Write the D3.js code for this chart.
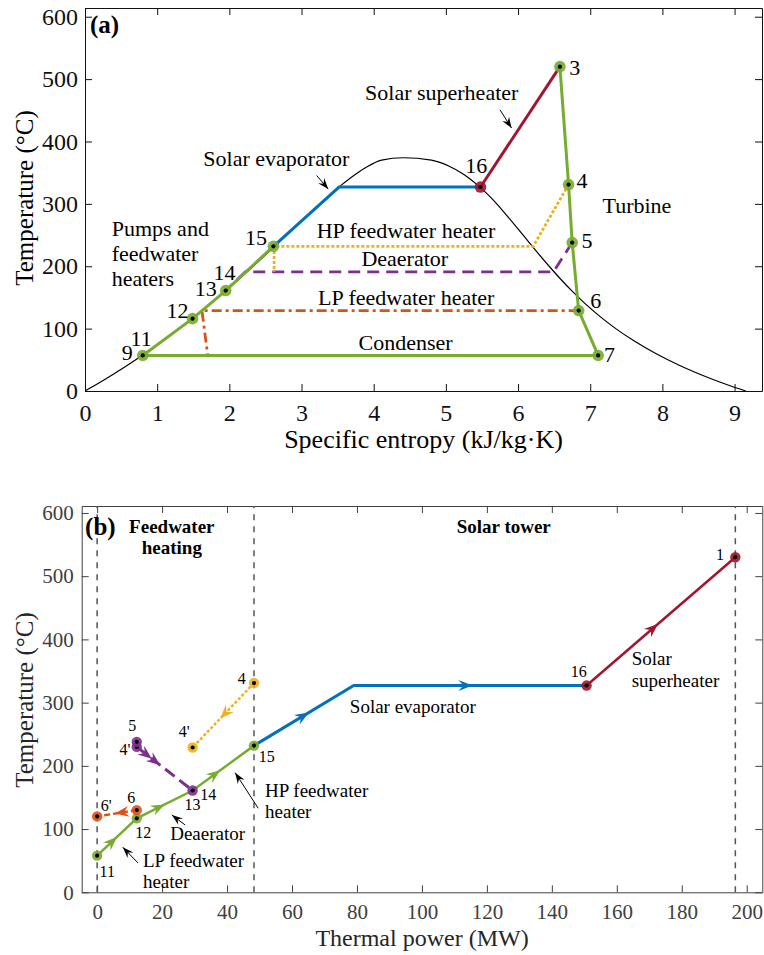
<!DOCTYPE html>
<html>
<head>
<meta charset="utf-8">
<title>T-s and T-Q diagrams</title>
<style>
body{margin:0;background:#fff}
</style>
</head>
<body>
<svg id="chart" width="764" height="955" font-family="'Liberation Serif', 'Times New Roman', 'DejaVu Serif', serif"></svg>
<script src="https://cdn.jsdelivr.net/npm/d3@7"></script>
<script>
// ---- panel (a): T-s diagram ----
// saturation dome of water (steam tables)
var satT  = [0.01, 10, 20, 40, 60, 80, 100, 120, 140, 160, 180, 200, 220, 240, 260, 280, 300, 310, 320, 330, 340, 350, 360, 370, 373.95];
var satSf = [0, 0.151, 0.2966, 0.5724, 0.8312, 1.0753, 1.3069, 1.5276, 1.7391, 1.9427, 2.1396, 2.3309, 2.5178, 2.7015, 2.8838, 3.0668, 3.2534, 3.3493, 3.4480, 3.5507, 3.6594, 3.7784, 3.9147, 4.1106, 4.407];
var satSg = [9.155, 8.899, 8.666, 8.255, 7.908, 7.611, 7.354, 7.129, 6.929, 6.750, 6.585, 6.431, 6.284, 6.141, 5.999, 5.854, 5.705, 5.6244, 5.536, 5.4373, 5.336, 5.2112, 5.053, 4.800, 4.407];

var turbineS = [6.58, 6.70, 6.75, 6.84, 7.11], turbineT = [520, 331, 238, 129, 57];
var condS = [7.11, 0.80], condT = [57, 57];
var pumpS = [0.80, 1.49, 1.95, 2.61], pumpT = [57, 116, 161, 232];
var evapS = [2.61, 3.52, 5.48], evapT = [232, 327, 327];
var superS = [5.48, 6.58], superT = [327, 520];
var hpS = [6.70, 6.21, 2.62, 2.62], hpT = [331, 232, 232, 191];
var deaS = [6.75, 6.49, 2.22, 1.95], deaT = [238, 191, 191, 161];
var lpS = [6.84, 1.62, 1.70], lpT = [129, 129, 58];
var greenPtS = [6.58, 6.70, 6.75, 6.84, 7.11, 0.80, 1.49, 1.95, 2.61];
var greenPtT = [520, 331, 238, 129, 57, 57, 116, 161, 232];
var xTicksA = [0, 1, 2, 3, 4, 5, 6, 7, 8, 9];
var yTicks = [0, 100, 200, 300, 400, 500, 600];

// ---- panel (b): T-Q diagram ----
var fwP = [0, 12.2, 29.4, 48.3], fwT = [58, 117, 161, 232];
var evP = [48.3, 79, 150.7], evT = [232, 327, 327];
var shP = [150.7, 196.5], shT = [327, 530];
var hpP = [48.3, 29.4], hpT2 = [331, 229];
var deP = [12.2, 29.4], deT = [230, 161];
var lpP = [12.2, 0], lpT2 = [130, 120];
var vLines = [0, 48.3, 196.5];
var xTicksB = [0, 20, 40, 60, 80, 100, 120, 140, 160, 180, 200];

var cGreen = "#77AC30", cBlue = "#0072BD", cRed = "#A2142F",
    cYellow = "#EDB120", cPurple = "#7E2F8E", cOrange = "#D95319";
var serif = "'Liberation Serif', 'Times New Roman', 'DejaVu Serif', serif";

var svg = d3.select("#chart");
var xa = d3.scaleLinear().domain([0, 9.38]).range([85, 762]);
var ya = d3.scaleLinear().domain([0, 614]).range([391, 8]);
var xb = d3.scaleLinear().domain([-4.75, 204.8]).range([81.7, 762.3]);
var yb = d3.scaleLinear().domain([0, 611]).range([892.3, 506]);

function frame(x, y, xt, pad, fs, col) {
  var g = svg.append("g");
  var r = x.range(), ry = y.range();
  var ax = [
    [d3.axisBottom(x).tickValues(xt).tickPadding(pad[0]), "translate(0," + ry[0] + ")"],
    [d3.axisLeft(y).tickValues(yTicks).tickPadding(pad[1]), "translate(" + r[0] + ",0)"],
    [d3.axisTop(x).tickValues(xt).tickFormat(""), "translate(0," + ry[1] + ")"],
    [d3.axisRight(y).tickValues(yTicks).tickFormat(""), "translate(" + r[1] + ",0)"]
  ];
  ax.forEach(function (a) {
    g.append("g").attr("transform", a[1])
      .call(a[0].tickSizeInner(-7).tickSizeOuter(0))
      .attr("font-family", serif).attr("font-size", fs);
  });
  g.selectAll("path,line").attr("stroke", col).attr("stroke-width", 1);
  g.selectAll("text").attr("fill", col).attr("font-family", serif);
  return g;
}

function line(g, x, y, xs, ys, color, w, dash) {
  g.append("path").datum(d3.zip(xs, ys))
    .attr("d", d3.line().x(function (d) { return x(d[0]); }).y(function (d) { return y(d[1]); }))
    .attr("fill", "none").attr("stroke", color).attr("stroke-width", w)
    .attr("stroke-dasharray", dash || null);
}

function markers(g, x, y, xs, ys, color, r) {
  d3.zip(xs, ys).forEach(function (d) {
    g.append("circle").attr("cx", x(d[0])).attr("cy", y(d[1])).attr("r", r).attr("fill", color).attr("opacity", 0.9);
    g.append("circle").attr("cx", x(d[0])).attr("cy", y(d[1])).attr("r", 2.1).attr("fill", "#000");
  });
}

function head(g, px, py, ang, len, wid, color) {
  var pts = [[0, 0], [-len, -wid / 2], [-len * 0.65, 0], [-len, wid / 2]];
  g.append("path")
    .attr("d", "M" + pts.map(function (p) { return p.join(","); }).join("L") + "Z")
    .attr("transform", "translate(" + px + "," + py + ") rotate(" + ang * 180 / Math.PI + ")")
    .attr("fill", color);
}

// arrow head on segment i of a polyline, tip at fraction f
function flow(g, x, y, xs, ys, i, f, color) {
  var x0 = x(xs[i]), y0 = y(ys[i]), x1 = x(xs[i + 1]), y1 = y(ys[i + 1]);
  head(g, x0 + f * (x1 - x0), y0 + f * (y1 - y0), Math.atan2(y1 - y0, x1 - x0), 14, 11, color);
}

function pointer(g, x, y, from, to) {
  var x0 = x(from[0]), y0 = y(from[1]), x1 = x(to[0]), y1 = y(to[1]);
  g.append("line").attr("x1", x0).attr("y1", y0).attr("x2", x1).attr("y2", y1)
    .attr("stroke", "#000").attr("stroke-width", 1);
  head(g, x1, y1, Math.atan2(y1 - y0, x1 - x0), 11, 8, "#000");
}

function label(g, x, y, px, py, str, fs, anchor, weight) {
  g.append("text").attr("x", x(px)).attr("y", y(py)).attr("font-size", fs)
    .attr("font-family", serif)
    .attr("text-anchor", anchor || "start").attr("font-weight", weight || null)
    .attr("fill", "#000").text(str);
}

// ================= panel (a) =================
frame(xa, ya, xTicksA, [13, 7], 24, "#111");
var ga = svg.append("g");
var dome = d3.zip(satSf, satT).concat(d3.zip(satSg, satT).reverse().slice(1));
ga.append("path").datum(dome)
  .attr("d", d3.line().curve(d3.curveMonotoneX).x(function (d) { return xa(d[0]); }).y(function (d) { return ya(d[1]); }))
  .attr("fill", "none").attr("stroke", "#000").attr("stroke-width", 1.2);
line(ga, xa, ya, lpS, lpT, cOrange, 2.8, "10,4,3,4");
line(ga, xa, ya, deaS, deaT, cPurple, 2.8, "12,7");
line(ga, xa, ya, hpS, hpT, cYellow, 2.8, "3,2");
line(ga, xa, ya, condS, condT, cGreen, 3);
line(ga, xa, ya, pumpS, pumpT, cGreen, 3);
line(ga, xa, ya, turbineS, turbineT, cGreen, 3);
line(ga, xa, ya, evapS, evapT, cBlue, 3);
line(ga, xa, ya, superS, superT, cRed, 3);
markers(ga, xa, ya, greenPtS, greenPtT, cGreen, 5.8);
markers(ga, xa, ya, [5.48], [327], cRed, 5.8);
pointer(ga, xa, ya, [3.21, 345.5], [3.37, 323.7]);
pointer(ga, xa, ya, [5.75, 450.8], [5.91, 421.5]);

label(ga, xa, ya, 0.07, 574, "(a)", 25, "start", "bold");
label(ga, xa, ya, 1.64, 361.5, "Solar evaporator", 22);
label(ga, xa, ya, 3.88, 467, "Solar superheater", 22);
label(ga, xa, ya, 5.42, 349, "16", 22, "middle");
label(ga, xa, ya, 6.71, 507, "3", 22);
label(ga, xa, ya, 6.81, 325, "4", 22);
label(ga, xa, ya, 7.17, 285, "Turbine", 22);
label(ga, xa, ya, 6.88, 229, "5", 22);
label(ga, xa, ya, 7.00, 133, "6", 22);
label(ga, xa, ya, 7.19, 46.5, "7", 22);
label(ga, xa, ya, 0.37, 248, "Pumps and", 22);
label(ga, xa, ya, 0.37, 208, "feedwater", 22);
label(ga, xa, ya, 0.37, 168, "heaters", 22);
label(ga, xa, ya, 2.52, 234.5, "15", 22, "end");
label(ga, xa, ya, 1.78, 178, "14", 22);
label(ga, xa, ya, 1.52, 151.6, "13", 22);
label(ga, xa, ya, 1.13, 117, "12", 22);
label(ga, xa, ya, 0.63, 72.6, "11", 22);
label(ga, xa, ya, 0.51, 50, "9", 22);
label(ga, xa, ya, 3.21, 245, "HP feedwater heater", 22);
label(ga, xa, ya, 3.83, 200, "Deaerator", 22);
label(ga, xa, ya, 3.23, 138, "LP feedwater heater", 22);
label(ga, xa, ya, 3.79, 66, "Condenser", 22);

svg.append("text").attr("x", 423.5).attr("y", 448).attr("text-anchor", "middle")
  .attr("font-family", serif).attr("font-size", 26).text("Specific entropy (kJ/kg\u00B7K)");
svg.append("text").attr("transform", "translate(33,198) rotate(-90)").attr("text-anchor", "middle")
  .attr("font-family", serif).attr("font-size", 25).text("Temperature (\u00B0C)");

// ================= panel (b) =================
frame(xb, yb, xTicksB, [12, 8], 21, "#404040");
var gb = svg.append("g");
vLines.forEach(function (v) {
  gb.append("line").attr("x1", xb(v)).attr("x2", xb(v)).attr("y1", yb(0)).attr("y2", yb(611))
    .attr("stroke", "#555").attr("stroke-width", 1.5).attr("stroke-dasharray", "6,6");
});
line(gb, xb, yb, evP, evT, cBlue, 3);
line(gb, xb, yb, shP, shT, cRed, 2.5);
line(gb, xb, yb, fwP, fwT, cGreen, 2.5);
line(gb, xb, yb, hpP, hpT2, cYellow, 2.5, "3,2");
line(gb, xb, yb, deP, deT, cPurple, 3, "12,6");
line(gb, xb, yb, lpP, lpT2, cOrange, 2.5, "6,3");
flow(gb, xb, yb, fwP, fwT, 0, 0.5, cGreen);
flow(gb, xb, yb, fwP, fwT, 1, 0.5, cGreen);
flow(gb, xb, yb, fwP, fwT, 2, 0.45, cGreen);
flow(gb, xb, yb, evP, evT, 0, 0.55, cBlue);
flow(gb, xb, yb, evP, evT, 1, 0.51, cBlue);
flow(gb, xb, yb, shP, shT, 0, 0.48, cRed);
flow(gb, xb, yb, hpP, hpT2, 0, 0.55, cYellow);
flow(gb, xb, yb, deP, deT, 0, 0.27, cPurple);
flow(gb, xb, yb, deP, deT, 0, 0.42, cPurple);
flow(gb, xb, yb, lpP, lpT2, 0, 0.55, cOrange);
markers(gb, xb, yb, [0, 12.2, 48.3], [58, 117, 232], cGreen, 5.2);
markers(gb, xb, yb, [29.4, 12.2, 12.2], [161, 230, 238], cPurple, 5.2);
markers(gb, xb, yb, hpP, hpT2, cYellow, 5.2);
markers(gb, xb, yb, lpP, lpT2, cOrange, 5.2);
markers(gb, xb, yb, shP, shT, cRed, 5.2);
pointer(gb, xb, yb, [27.1, 106.5], [23.0, 122.3]);
pointer(gb, xb, yb, [12.6, 46.4], [7.9, 71.2]);
pointer(gb, xb, yb, [49.6, 132.9], [42.5, 189.2]);

label(gb, xb, yb, -3.7, 565, "(b)", 25, "start", "bold");
label(gb, xb, yb, 23, 568.5, "Feedwater", 19, "middle", "bold");
label(gb, xb, yb, 23, 535, "heating", 19, "middle", "bold");
label(gb, xb, yb, 125.2, 568.5, "Solar tower", 19, "middle", "bold");
label(gb, xb, yb, 77.8, 283.7, "Solar evaporator", 19);
label(gb, xb, yb, 164.6, 359.7, "Solar", 19);
label(gb, xb, yb, 164.6, 324.8, "superheater", 19);
label(gb, xb, yb, 148.3, 341, "16", 16, "middle");
label(gb, xb, yb, 193, 525.8, "1", 16, "end");
label(gb, xb, yb, 44.5, 329.6, "4", 16, "middle");
label(gb, xb, yb, 26.8, 245.7, "4'", 16, "middle");
label(gb, xb, yb, 10.8, 255.7, "5", 16, "middle");
label(gb, xb, yb, 8.6, 217, "4'", 16, "middle");
label(gb, xb, yb, 2.8, 129, "6'", 16, "middle");
label(gb, xb, yb, 10.5, 141.3, "6", 16, "middle");
label(gb, xb, yb, 14.2, 86, "12", 16, "middle");
label(gb, xb, yb, 3.1, 24.7, "11", 16, "middle");
label(gb, xb, yb, 29.4, 130, "13", 16, "middle");
label(gb, xb, yb, 34.2, 146, "14", 16, "middle");
label(gb, xb, yb, 52.2, 205.7, "15", 16, "middle");
label(gb, xb, yb, 22.5, 82.8, "Deaerator", 19);
label(gb, xb, yb, 14.1, 40.5, "LP feedwater", 19);
label(gb, xb, yb, 14.1, 6.3, "heater", 19);
label(gb, xb, yb, 51.7, 151.3, "HP feedwater", 19);
label(gb, xb, yb, 51.7, 117, "heater", 19);

svg.append("text").attr("x", 422).attr("y", 946).attr("text-anchor", "middle")
  .attr("font-family", serif).attr("font-size", 24).attr("fill", "#262626").text("Thermal power (MW)");
svg.append("text").attr("transform", "translate(33,700) rotate(-90)").attr("text-anchor", "middle")
  .attr("font-family", serif).attr("font-size", 25).attr("fill", "#262626").text("Temperature (\u00B0C)");
</script>
</body>
</html>
